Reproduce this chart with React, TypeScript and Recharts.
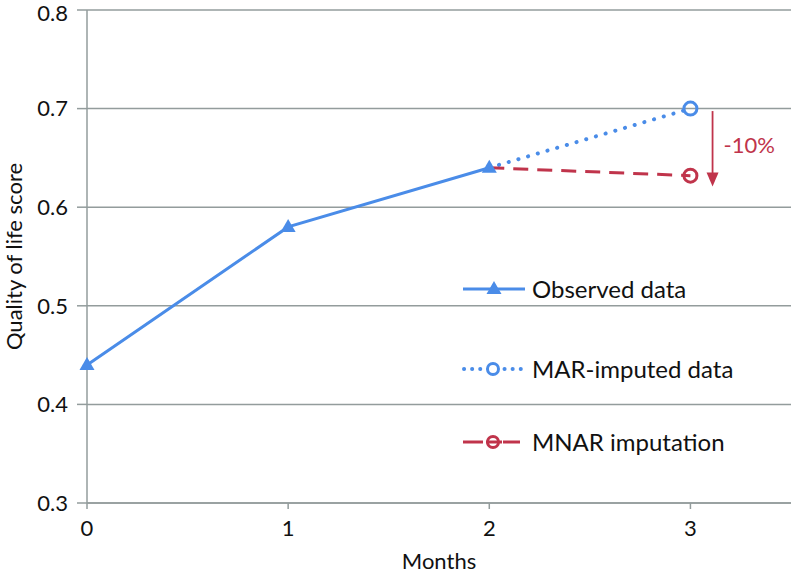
import {
  LineChart,
  Line,
  XAxis,
  YAxis,
  CartesianGrid,
  Legend,
  ReferenceLine,
  ReferenceDot,
} from "recharts"

const MONTH_TICKS = [0, 1, 2, 3]
const SCORE_TICKS = [0.3, 0.4, 0.5, 0.6, 0.7, 0.8]

const observed = [
  { month: 0, score: 0.44 },
  { month: 1, score: 0.58 },
  { month: 2, score: 0.64 },
]
const marImputed = [
  { month: 2, score: 0.64 },
  { month: 3, score: 0.7 },
]
const mnarImputed = [
  { month: 2, score: 0.64 },
  { month: 3, score: 0.632 },
]

const SERIES_NAMES = ["Observed data", "MAR-imputed data", "MNAR imputation"]
const ARROW_X = 3.11
const ARROW_FROM = 0.6975
const ARROW_TO = 0.621
const ARROW_LABEL = "-10%"

const BLUE = "#4a8ce8"
const RED = "#c0344b"
const GRID = "#939c9c"
const FONT = "Lato, 'Noto Sans', sans-serif"

const Triangle = ({ cx, cy, key }: any) => (
  <path
    key={key}
    d={`M${cx},${cy - 8} L${cx + 7.5},${cy + 5} L${cx - 7.5},${cy + 5} Z`}
    fill={BLUE}
  />
)

const endCircle = (color: string) => (props: any) => {
  const { cx, cy, index } = props
  if (index !== 1) return <g key={`e-${index}`} />
  return (
    <circle
      key={`c-${index}`}
      cx={cx}
      cy={cy}
      r={6.5}
      fill="none"
      stroke={color}
      strokeWidth={3}
    />
  )
}

const ArrowHead = ({ cx, cy }: any) => (
  <path
    d={`M${cx - 6},${cy - 14} L${cx + 6},${cy - 14} L${cx},${cy} Z`}
    fill={RED}
  />
)

const ArrowText = ({ cx, cy }: any) => (
  <text
    x={cx}
    y={cy}
    dy="0.35em"
    fill={RED}
    fontSize={22}
    fontFamily={FONT}
  >
    {ARROW_LABEL}
  </text>
)

function LegendBox() {
  const row = (i: number, icon: React.ReactNode, top: number) => (
    <div
      key={i}
      style={{
        position: "absolute",
        top,
        left: 0,
        height: 30,
        display: "flex",
        alignItems: "center",
        whiteSpace: "nowrap",
      }}
    >
      <svg width={70} height={20}>
        {icon}
      </svg>
      <span style={{ fontSize: 24, lineHeight: "30px", color: "#111" }}>
        {SERIES_NAMES[i]}
      </span>
    </div>
  )
  return (
    <div style={{ position: "relative", fontFamily: FONT }}>
      {row(
        0,
        <g>
          <line x1={1} y1={10} x2={63} y2={10} stroke={BLUE} strokeWidth={3} />
          <path d="M32,2 L39.5,15 L24.5,15 Z" fill={BLUE} />
        </g>,
        0
      )}
      {row(
        1,
        <g>
          <line
            x1={2}
            y1={10}
            x2={60}
            y2={10}
            stroke={BLUE}
            strokeWidth={4}
            strokeDasharray="0.1 8"
            strokeLinecap="round"
          />
          <circle cx={31} cy={10} r={5.5} fill="#fff" stroke={BLUE} strokeWidth={3} />
        </g>,
        80
      )}
      {row(
        2,
        <g>
          <line x1={1} y1={10} x2={21} y2={10} stroke={RED} strokeWidth={3} />
          <line x1={24} y1={10} x2={40} y2={10} stroke={RED} strokeWidth={3} />
          <line x1={41} y1={10} x2={58} y2={10} stroke={RED} strokeWidth={3} />
          <circle cx={31} cy={10} r={5.5} fill="none" stroke={RED} strokeWidth={3} />
        </g>,
        153
      )}
    </div>
  )
}

export default function App() {
  return (
    <div style={{ position: "absolute", left: 0, top: 0, fontFamily: FONT }}>
      <LineChart
        width={794}
        height={574}
        margin={{ top: 10, right: 3, left: 30, bottom: 26 }}
      >
        <CartesianGrid vertical={false} stroke={GRID} strokeWidth={1.5} />
        <XAxis
          type="number"
          dataKey="month"
          domain={[0, 3.5]}
          ticks={MONTH_TICKS}
          height={45}
          tickSize={6}
          tickMargin={11}
          stroke={GRID}
          strokeWidth={1.5}
          tick={{ fill: "#111", fontSize: 22, fontFamily: FONT }}
          label={{
            value: "Months",
            position: "insideBottom",
            offset: -21,
            fill: "#111",
            fontSize: 22,
            fontFamily: FONT,
          }}
        />
        <YAxis
          type="number"
          domain={[0.3, 0.8]}
          ticks={SCORE_TICKS}
          width={57}
          tickSize={10}
          tickMargin={9}
          stroke={GRID}
          strokeWidth={1.5}
          tickFormatter={(v: number) => v.toFixed(1)}
          tick={{ fill: "#111", fontSize: 22, fontFamily: FONT }}
          label={{
            value: "Quality of life score",
            angle: -90,
            position: "insideLeft",
            offset: -16,
            style: { textAnchor: "middle" },
            fill: "#111",
            fontSize: 22,
            fontFamily: FONT,
          }}
        />
        <Line
          data={marImputed}
          dataKey="score"
          name={SERIES_NAMES[1]}
          stroke={BLUE}
          strokeWidth={4}
          strokeDasharray="0.1 10"
          strokeLinecap="round"
          dot={endCircle(BLUE)}
          isAnimationActive={false}
        />
        <Line
          data={mnarImputed}
          dataKey="score"
          name={SERIES_NAMES[2]}
          stroke={RED}
          strokeWidth={3}
          strokeDasharray="15 9"
          dot={endCircle(RED)}
          isAnimationActive={false}
        />
        <Line
          data={observed}
          dataKey="score"
          name={SERIES_NAMES[0]}
          stroke={BLUE}
          strokeWidth={3}
          dot={Triangle}
          isAnimationActive={false}
        />
        <ReferenceLine
          segment={[
            { x: ARROW_X, y: ARROW_FROM },
            { x: ARROW_X, y: ARROW_TO + 0.01 },
          ]}
          stroke={RED}
          strokeWidth={1.8}
        />
        <ReferenceDot x={ARROW_X} y={ARROW_TO} shape={ArrowHead} />
        <ReferenceDot x={3.165} y={0.663} shape={ArrowText} />
        <Legend
          content={() => <LegendBox />}
          wrapperStyle={{ position: "absolute", left: 462, top: 274, width: 320 }}
        />
      </LineChart>
    </div>
  )
}
